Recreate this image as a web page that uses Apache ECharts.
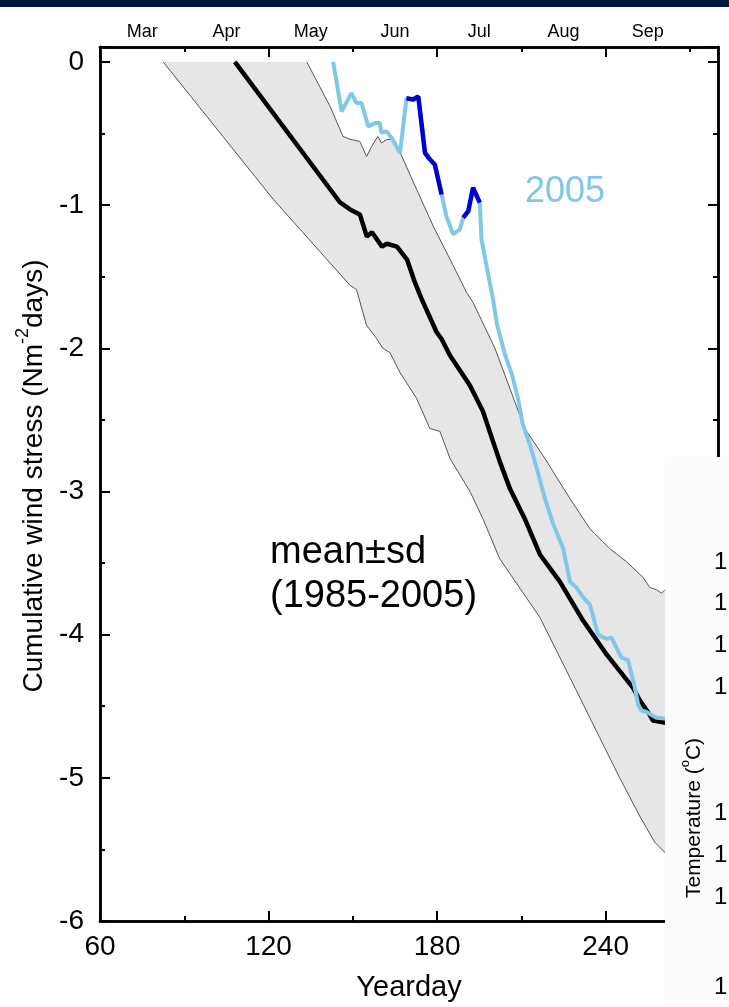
<!DOCTYPE html>
<html>
<head>
<meta charset="utf-8">
<title>Cumulative wind stress</title>
<script src="https://cdn.jsdelivr.net/npm/echarts@6.0.0/dist/echarts.min.js"></script>
<style>
  html, body { margin: 0; padding: 0; background: #fff; }
  #main { width: 729px; height: 1007px; }
</style>
</head>
<body>
<div id="main"></div>
<script>
// month names on the top axis (centred between month ticks)
var months = ['Mar', 'Apr', 'May', 'Jun', 'Jul', 'Aug', 'Sep'];

// mean 1985-2005
var meanDays = [108, 145.4, 149, 152.5, 155, 156.8, 160.4, 162.1, 165.7, 169.3, 172.1, 174.6, 179.8, 181.6, 184.6, 191.7, 196.3, 202.3, 205.9, 211.2, 216.6, 223.7, 231.9, 240.4, 249.7, 252.2, 255.7, 256.8, 263];
var meanVals = [0, -0.98, -1.03, -1.065, -1.22, -1.19, -1.29, -1.27, -1.29, -1.38, -1.54, -1.66, -1.886, -1.935, -2.05, -2.26, -2.44, -2.79, -2.98, -3.19, -3.44, -3.63, -3.90, -4.14, -4.37, -4.46, -4.56, -4.60, -4.62];

// mean + sd
var upperDays = [133.6, 141.9, 146.5, 149, 152.5, 154.9, 156.7, 158.9, 160.2, 162, 164.3, 166.8, 172.7, 178.6, 184.6, 190.5, 192.8, 200.6, 205.9, 211.2, 218.4, 227.3, 234.4, 241.5, 247.4, 253.3, 255.7, 258.1, 259.9, 261, 263];
var upperVals = [0, -0.31, -0.52, -0.54, -0.555, -0.66, -0.59, -0.52, -0.566, -0.543, -0.54, -0.63, -0.89, -1.146, -1.378, -1.61, -1.68, -2.0, -2.28, -2.56, -2.77, -3.05, -3.26, -3.40, -3.49, -3.60, -3.67, -3.686, -3.71, -3.69, -3.70];

// mean - sd
var lowerDays = [82.5, 121.7, 149, 151.3, 154.9, 158.4, 160.7, 163.2, 166.8, 172.7, 177.4, 181, 184.6, 191.7, 196.3, 202.3, 216.6, 227.3, 237.9, 245, 252.2, 257.5, 261, 263];
var lowerVals = [0, -0.96, -1.56, -1.59, -1.84, -1.93, -2.0, -2.03, -2.17, -2.35, -2.56, -2.58, -2.77, -3.0, -3.19, -3.47, -3.88, -4.30, -4.72, -5.0, -5.27, -5.45, -5.52, -5.55];

// 2005
var y2005Days = [143, 146, 149.5, 151.3, 153.1, 155.5, 157.9, 159.6, 160.2, 162, 164.3, 166.8, 169.1, 171.5, 173.3, 175.7, 177.4, 179.2, 181.6, 183.3, 185.7, 188.1, 189.3, 191.1, 192.8, 195.2, 195.8, 197.6, 199.9, 201.3, 204.1, 206.6, 208.8, 210.5, 213, 215.5, 218.4, 221.2, 224.9, 227.3, 229.6, 232, 234.4, 237.3, 240.3, 242.1, 245.6, 248, 250.4, 251.6, 252.7, 254.5, 258.1, 263];
var y2005Vals = [0, -0.346, -0.218, -0.287, -0.287, -0.45, -0.427, -0.427, -0.496, -0.485, -0.543, -0.635, -0.253, -0.262, -0.241, -0.635, -0.68, -0.717, -0.925, -1.077, -1.204, -1.169, -1.088, -1.042, -0.879, -0.983, -1.239, -1.425, -1.656, -1.83, -2.04, -2.18, -2.35, -2.53, -2.67, -2.84, -3.05, -3.22, -3.40, -3.63, -3.67, -3.74, -3.79, -4.0, -4.03, -4.02, -4.16, -4.18, -4.37, -4.49, -4.53, -4.54, -4.58, -4.59];

// 2005 parts drawn in dark blue
var dark1Days = [169.1, 171.5, 173.3, 175.7, 177.4, 179.2, 181.6];
var dark1Vals = [-0.253, -0.262, -0.241, -0.635, -0.68, -0.717, -0.925];
var dark2Days = [189.3, 191.1, 192.8, 195.2];
var dark2Vals = [-1.088, -1.042, -0.879, -0.983];

var FONT = 'Liberation Sans, Arial, Helvetica, sans-serif';

function zip(xs, ys) {
  var res = [];
  for (var i = 0; i < xs.length; i++) res.push([xs[i], ys[i]]);
  return res;
}

function xAxisOf(position, interval, tickLen, extra) {
  var ax = {
    type: 'value', gridIndex: 0, position: position,
    min: 60, max: 280, interval: interval,
    axisLine: { show: true, onZero: false, lineStyle: { color: '#000', width: 2.5 } },
    axisTick: { show: tickLen > 0, inside: true, length: tickLen, lineStyle: { color: '#000', width: 2 } },
    axisLabel: { show: false },
    splitLine: { show: false }
  };
  return Object.assign(ax, extra || {});
}

function yAxisOf(position, interval, tickLen, extra) {
  var ax = {
    type: 'value', gridIndex: 0, position: position,
    min: -6, max: 0.1044, interval: interval,
    axisLine: { show: true, onZero: false, lineStyle: { color: '#000', width: 2.5 } },
    axisTick: { show: true, inside: true, length: tickLen, lineStyle: { color: '#000', width: 2 } },
    axisLabel: { show: false },
    splitLine: { show: false }
  };
  return Object.assign(ax, extra || {});
}

var option = {
  backgroundColor: '#fff',
  animation: false,
  grid: { left: 100, right: 11, top: 47, bottom: 84 },
  xAxis: [
    xAxisOf('bottom', 60, 10, {
      axisLabel: {
        show: true, color: '#000', fontSize: 28, fontFamily: FONT, margin: 12,
        formatter: function (v) { return v % 60 === 0 ? String(v) : ''; }
      },
      name: 'Yearday', nameLocation: 'middle', nameGap: 52,
      nameTextStyle: { color: '#000', fontSize: 29, fontFamily: FONT }
    }),
    xAxisOf('bottom', 30, 5),
    xAxisOf('top', 60, 10),
    xAxisOf('top', 30, 5),
    xAxisOf('top', 15, 0, {
      axisLine: { show: false },
      axisLabel: {
        show: true, color: '#000', fontSize: 18, fontFamily: FONT, margin: 6,
        formatter: function (v) {
          var k = (v - 75) / 30;
          return (k >= 0 && k === Math.floor(k) && months[k]) ? months[k] : '';
        }
      }
    })
  ],
  yAxis: [
    yAxisOf('left', 1, 10, {
      axisLabel: {
        show: true, color: '#000', fontSize: 28, fontFamily: FONT, margin: 16,
        formatter: function (v) { return Math.abs(v - Math.round(v)) < 1e-9 ? String(Math.round(v)) : ''; }
      },
      name: '{t|Cumulative wind stress (Nm}{s|-2}{t|days)}',
      nameLocation: 'middle', nameGap: 50,
      nameTextStyle: {
        padding: [0, 0, 0, 16],
        rich: {
          t: { fontSize: 28, fontFamily: FONT, color: '#000', verticalAlign: 'bottom', lineHeight: 34 },
          s: { fontSize: 18, fontFamily: FONT, color: '#000', verticalAlign: 'top', lineHeight: 34 }
        }
      }
    }),
    yAxisOf('left', 0.5, 5),
    yAxisOf('right', 1, 10),
    yAxisOf('right', 0.5, 5)
  ],
  graphic: [
    // strip of the slide heading above the chart
    { type: 'rect', x: 0, y: 0, z: 100, shape: { width: 729, height: 7 }, style: { fill: '#00173f' } },
    // neighbouring panel that overlaps the lower right corner
    { type: 'rect', x: 665, y: 457, z: 100, shape: { width: 64, height: 550 }, style: { fill: '#fcfcfc' } },
    { type: 'text', x: 692, y: 818, z: 101, rotation: Math.PI / 2,
      style: {
        text: '{a|Temperature (}{b|o}{a|C)}', align: 'center', verticalAlign: 'middle',
        rich: {
          a: { fontSize: 21, fontFamily: FONT, fill: '#000', verticalAlign: 'bottom', lineHeight: 26 },
          b: { fontSize: 13, fontFamily: FONT, fill: '#000', verticalAlign: 'top', lineHeight: 26 }
        }
      } },
    { type: 'text', x: 270, y: 575, z: 101,
      style: { text: 'mean\u00B1sd\n(1985-2005)', font: '38px ' + FONT, lineHeight: 44, fill: '#000', align: 'left', verticalAlign: 'middle' } },
    { type: 'text', x: 565, y: 192, z: 101,
      style: { text: '2005', font: '36px ' + FONT, fill: '#80c8e8', align: 'center', verticalAlign: 'middle' } }
  ].concat([562, 603, 645, 687, 813, 855, 897, 987].map(function (yy) {
    return { type: 'text', x: 714, y: yy, z: 101,
      style: { text: '1', font: '24px ' + FONT, fill: '#000', align: 'left', verticalAlign: 'middle' } };
  })),
  series: [
    {
      // grey mean +/- sd band
      type: 'custom',
      xAxisIndex: 0, yAxisIndex: 0,
      data: [[lowerDays[0], lowerVals[0]]],
      z: 1,
      renderItem: function (params, api) {
        var pts = [];
        for (var i = 0; i < lowerDays.length; i++) pts.push(api.coord([lowerDays[i], lowerVals[i]]));
        for (var j = upperDays.length - 1; j >= 0; j--) pts.push(api.coord([upperDays[j], upperVals[j]]));
        return { type: 'polygon', shape: { points: pts }, style: { fill: '#e6e6e6' } };
      }
    },
    {
      type: 'line', data: zip(lowerDays, lowerVals), showSymbol: false, symbol: 'none', z: 2,
      lineStyle: { color: '#555', width: 1 }
    },
    {
      type: 'line', data: zip(upperDays, upperVals), showSymbol: false, symbol: 'none', z: 2,
      lineStyle: { color: '#555', width: 1 }
    },
    {
      type: 'line', data: zip(meanDays, meanVals), showSymbol: false, symbol: 'none', z: 3,
      lineStyle: { color: '#000', width: 4.5 }
    },
    {
      type: 'line', data: zip(y2005Days, y2005Vals), showSymbol: false, symbol: 'none', z: 4,
      lineStyle: { color: '#80c8e8', width: 4 }
    },
    {
      type: 'line', data: zip(dark1Days, dark1Vals), showSymbol: false, symbol: 'none', z: 5,
      lineStyle: { color: '#0000cc', width: 4.5 }
    },
    {
      type: 'line', data: zip(dark2Days, dark2Vals), showSymbol: false, symbol: 'none', z: 5,
      lineStyle: { color: '#0000cc', width: 4.5 }
    }
  ]
};

var chart = echarts.init(document.getElementById('main'), null, { renderer: 'canvas' });
chart.setOption(option);
</script>
</body>
</html>
